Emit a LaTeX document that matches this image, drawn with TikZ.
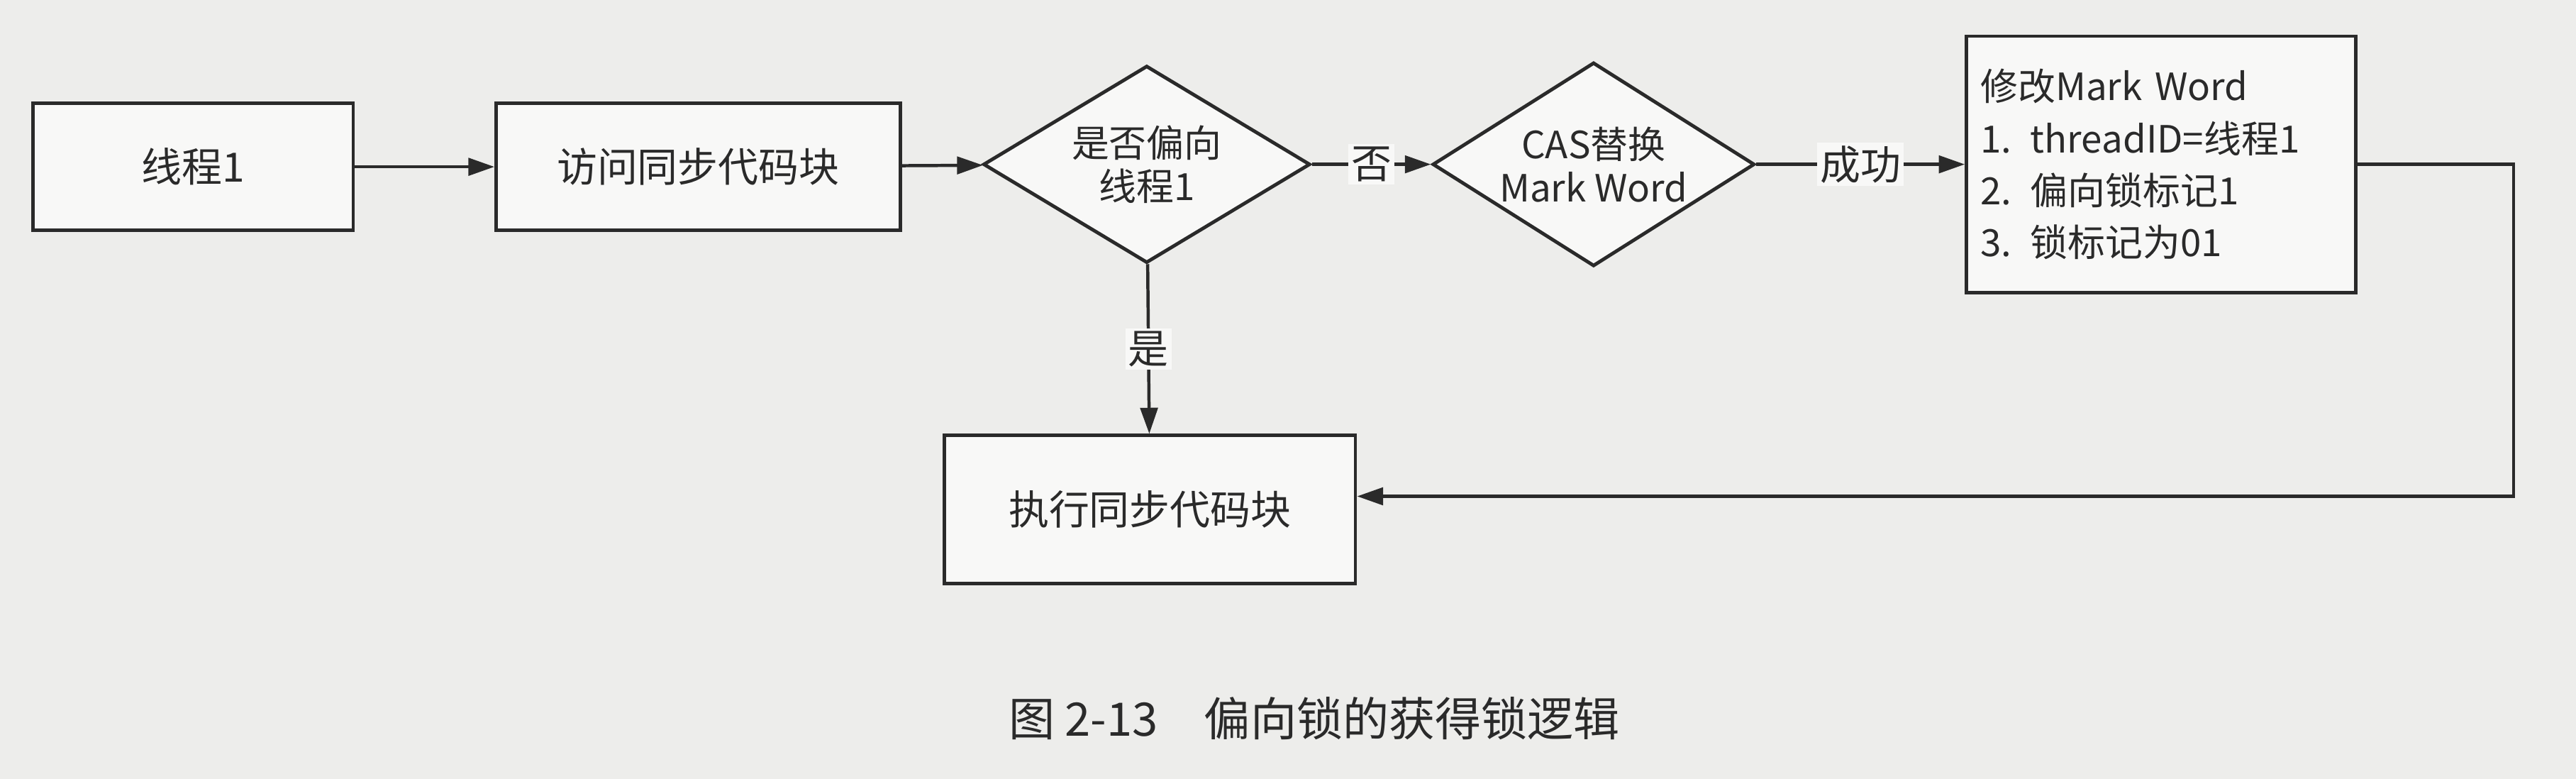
\documentclass[tikz,border=0pt]{standalone}
\usepackage{fontspec}
\newfontfamily\cjk{Noto Sans CJK SC}
\usetikzlibrary{shapes.geometric,arrows.meta}
\definecolor{paper}{HTML}{EDEDEB}
\definecolor{ink}{HTML}{2A2A2A}
\tikzset{
  boxn/.style={draw=ink,line width=1.2pt,fill=white!60!paper,font=\cjk\fontsize{14}{17}\selectfont,text=ink},
  dia/.style={draw=ink,line width=1.2pt,diamond,aspect=1.6,fill=white!60!paper,font=\cjk\fontsize{13}{15}\selectfont,align=center,text=ink,inner sep=0pt},
  conn/.style={draw=ink,line width=1.1pt,-{Triangle[length=9pt,width=6pt]}},
  lab/.style={font=\cjk\fontsize{14}{16}\selectfont,fill=white!60!paper,inner sep=1pt,text=ink}
}
\begin{document}
\begin{tikzpicture}[x=0.02cm,y=-0.02cm]
\fill[paper] (0,0) rectangle (1568,474);
\useasboundingbox (0,0) rectangle (1568,474);
\node[boxn,minimum width=195*0.02cm,minimum height=77*0.02cm] (t1) at (117.5,101.5) {线程1};
\node[boxn,minimum width=246*0.02cm,minimum height=77*0.02cm] (acc) at (425,101.5) {访问同步代码块};
\node[dia,minimum width=199*0.02cm,minimum height=120*0.02cm] (d1) at (698,100) {是否偏向\\线程1};
\node[dia,minimum width=196*0.02cm,minimum height=124*0.02cm] (d2) at (970,100) {CAS替换\\Mark Word};
\node[boxn,minimum width=237*0.02cm,minimum height=156*0.02cm,align=left,text width=220*0.02cm,font=\cjk\fontsize{13}{18}\selectfont] (mod) at (1315.5,100) {修改Mark Word\\1. threadID=线程1\\2. 偏向锁标记1\\3. 锁标记为01};
\node[boxn,minimum width=250*0.02cm,minimum height=90*0.02cm] (exe) at (700,310) {执行同步代码块};
\draw[conn] (t1) -- (acc);
\draw[conn] (acc) -- (d1);
\draw[conn] (d1) -- node[lab]{否} (d2);
\draw[conn] (d2) -- node[lab]{成功} (mod);
\draw[conn] (d1) -- node[lab]{是} (exe);
\coordinate (c1) at (1530,100);
\coordinate (c2) at (1530,302);
\draw[conn] (mod.east |- c1) -- (c1) -- (c2) -- (exe.east |- c2);
\node[font=\cjk\fontsize{16}{19}\selectfont,text=ink] (cap) at (800,437) {图 2-13\quad 偏向锁的获得锁逻辑};
\end{tikzpicture}
\end{document}
